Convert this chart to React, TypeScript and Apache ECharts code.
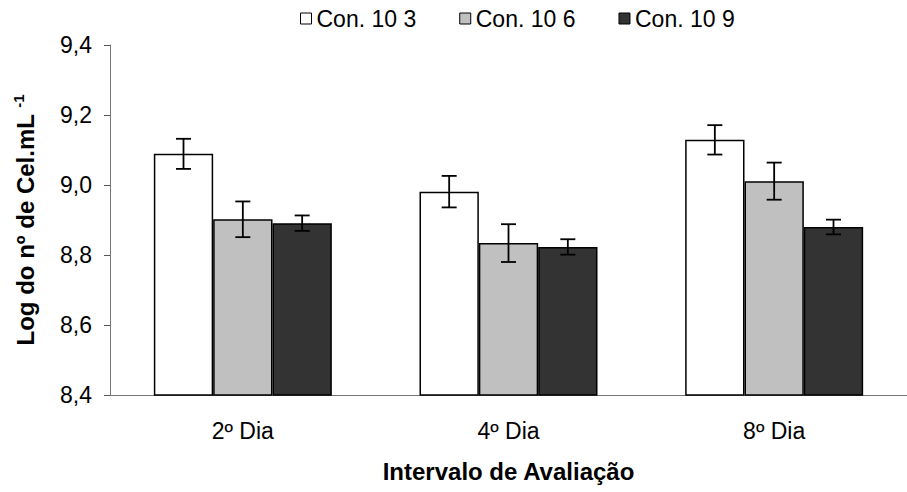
import React, { useEffect, useRef } from "react";
import * as echarts from "echarts";

const categories = ["2º Dia", "4º Dia", "8º Dia"];
const seriesNames = ["Con. 10 3", "Con. 10 6", "Con. 10 9"];
const con3 = [9.089, 8.981, 9.129];
const con6 = [8.902, 8.834, 9.011];
const con9 = [8.891, 8.823, 8.88];
const err3 = [0.043, 0.045, 0.042];
const err6 = [0.051, 0.054, 0.053];
const err9 = [0.022, 0.022, 0.021];
const yTicks = [8.4, 8.6, 8.8, 9.0, 9.2, 9.4];

const colors = ["#ffffff", "#c0c0c0", "#333333"];
const FONT = "'Liberation Sans', Arial, sans-serif";
const CAT_GAP = 0.33;

export default function App() {
  const ref = useRef<HTMLDivElement>(null);
  useEffect(() => {
    if (!ref.current) return;
    const chart = echarts.init(ref.current, null, { renderer: "svg" });
    const values = [con3, con6, con9];
    const errs = [err3, err6, err9];

    const barSeries = values.map((vals, i) => ({
      name: seriesNames[i],
      type: "bar",
      data: vals,
      barGap: "0%",
      barCategoryGap: CAT_GAP * 100 + "%",
      itemStyle: { color: colors[i], borderColor: "#000", borderWidth: 1.5 },
    }));

    const errData: number[][] = [];
    values.forEach((vals, i) => {
      vals.forEach((v, c) => {
        errData.push([c, v - errs[i][c], v + errs[i][c], i]);
      });
    });

    const errSeries = {
      type: "custom",
      name: "err",
      data: errData,
      z: 10,
      encode: { x: 0, y: [1, 2] },
      renderItem: (params: any, api: any) => {
        const c = api.value(0);
        const lo = api.value(1);
        const hi = api.value(2);
        const si = api.value(3);
        const catW = api.size([1, 0])[0];
        const bw = (catW * (1 - CAT_GAP)) / 3;
        const p1 = api.coord([c, hi]);
        const p2 = api.coord([c, lo]);
        const x = p1[0] + (si - 1) * bw;
        const cap = 7.5;
        const style = { stroke: "#000", lineWidth: 1.8 };
        return {
          type: "group",
          children: [
            { type: "line", shape: { x1: x, y1: p1[1], x2: x, y2: p2[1] }, style },
            { type: "line", shape: { x1: x - cap, y1: p1[1], x2: x + cap, y2: p1[1] }, style },
            { type: "line", shape: { x1: x - cap, y1: p2[1], x2: x + cap, y2: p2[1] }, style },
          ],
        };
      },
    };

    chart.setOption({
      animation: false,
      textStyle: { fontFamily: FONT, color: "#000" },
      grid: { left: 110, top: 45, width: 807, height: 350 },
      legend: {
        data: seriesNames,
        top: 2,
        left: 295,
        itemWidth: 11,
        itemHeight: 11,
        itemGap: 43,
        icon: "rect",
        textStyle: { fontFamily: FONT, fontSize: 23, color: "#000" },
        itemStyle: { borderColor: "#000", borderWidth: 1 },
      },
      xAxis: {
        type: "category",
        data: categories,
        name: "Intervalo de Avaliação",
        nameLocation: "middle",
        nameGap: 64,
        nameTextStyle: { fontFamily: FONT, fontSize: 24, fontWeight: "bold", color: "#000" },
        axisLine: { lineStyle: { color: "#777", width: 1 } },
        axisTick: { length: 7, lineStyle: { color: "#555" } },
        axisLabel: { fontFamily: FONT, fontSize: 23, color: "#000", margin: 24 },
      },
      yAxis: {
        type: "value",
        min: yTicks[0],
        max: yTicks[yTicks.length - 1],
        interval: 0.2,
        name: "Log do nº de Cel.mL {sup|-1}",
        nameLocation: "middle",
        nameGap: 70,
        nameTextStyle: {
          fontFamily: FONT,
          fontSize: 24,
          fontWeight: "bold",
          color: "#000",
          rich: {
            sup: { fontFamily: FONT, fontSize: 15, fontWeight: "bold", color: "#000", verticalAlign: "top", padding: [0, 0, 14, 0] },
          },
        },
        splitLine: { show: false },
        axisLine: { show: true, lineStyle: { color: "#777", width: 1 } },
        axisTick: { show: true, length: 6, lineStyle: { color: "#555" } },
        axisLabel: {
          fontFamily: FONT,
          fontSize: 23,
          color: "#000",
          margin: 18,
          formatter: (v: number) => v.toFixed(1).replace(".", ","),
        },
      },
      series: [...barSeries, errSeries],
    });
    return () => chart.dispose();
  }, []);
  return <div ref={ref} style={{ position: "absolute", left: 0, top: 0, width: 907, height: 492 }} />;
}
